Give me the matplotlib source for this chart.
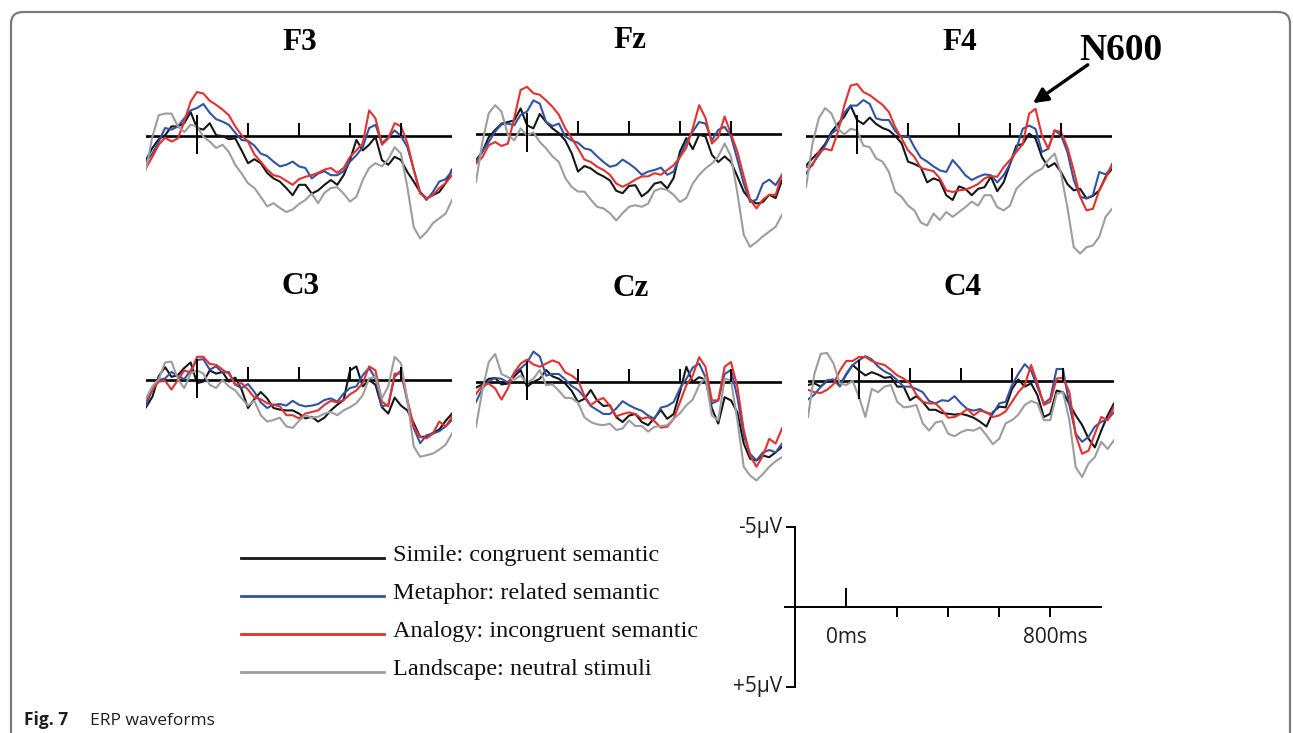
import numpy as np
import matplotlib.pyplot as plt
from matplotlib.path import Path
from matplotlib.patches import PathPatch

W, H = 1293, 733

# sample times (ms) for every waveform
times_ms = np.arange(-200, 1001, 25)

# ---- waveform values (µV, negative plotted up) ----
f3_simile = [1.5, 0.75, 0.2, -0.05, -0.6, -0.6, -0.8, -1.5, -0.5, -0.4, -0.8, -0.05, 0.0, 0.2, 0.15, 0.9, 1.7,
             1.45, 1.7, 2.3, 2.65, 2.85, 3.25, 3.7, 3.05, 3.05, 3.6, 3.4, 3.05, 2.75, 3.05, 2.45, 1.5, 0.25, 0.9,
             0.55, 0.05, 1.5, 1.8, 1.3, 1.5, 2.25, 2.85, 3.5, 3.9, 3.7, 3.5, 2.95, 2.1]
f3_metaphor = [1.6, 1.1, 0.35, -0.5, -0.4, -0.6, -1.1, -1.6, -1.75, -2.0, -1.45, -1.05, -0.9, -0.7, -0.2, 0.25, 0.3,
               0.6, 1.1, 1.25, 1.6, 1.9, 1.8, 1.6, 1.9, 2.0, 2.65, 2.35, 2.2, 2.45, 2.45, 2.2, 1.6, 1.2, 0.7,
               -0.5, -0.7, 0.45, 0.1, -0.35, 0.0, 0.7, 2.1, 3.5, 4.0, 3.5, 2.85, 2.7, 2.2]
f3_analogy = [2.0, 1.3, 0.55, 0.1, 0.35, 0.15, -0.9, -2.15, -2.75, -2.65, -2.2, -1.95, -1.65, -1.3, -0.6, -0.05, 0.35,
              1.15, 1.6, 2.1, 2.45, 2.55, 2.8, 3.05, 2.7, 2.55, 2.45, 2.3, 2.1, 2.0, 2.3, 2.0, 1.3, 0.9, 0.45,
              -1.6, -1.1, 0.55, 0.15, -0.8, -0.6, 0.45, 2.1, 3.6, 3.9, 3.7, 3.25, 2.95, 2.45]
f3_landscape = [2.1, 0.05, -1.3, -1.4, -1.4, -0.6, -0.25, -0.7, -0.6, 0.05, 0.35, 0.75, 0.55, 1.0, 1.8, 2.35, 2.95,
                3.25, 3.8, 4.4, 4.2, 4.5, 4.75, 4.6, 4.25, 4.0, 3.6, 4.2, 3.55, 3.25, 3.2, 3.6, 4.1, 3.8, 2.75,
                2.0, 1.7, 1.9, 1.45, 0.7, 1.1, 3.2, 5.7, 6.4, 6.0, 5.45, 5.15, 4.85, 4.0]

fz_simile = [1.65, 1.1, 0.2, -0.25, -0.65, -0.75, -0.85, -1.6, -0.55, -0.35, -1.25, -0.75, -0.35, -0.05, 0.4, 1.2,
             2.35, 2.0, 2.15, 2.45, 2.65, 2.9, 3.55, 3.7, 3.25, 3.2, 3.9, 3.6, 3.1, 3.0, 3.4, 2.75, 1.1, 0.25,
             0.95, 0.05, 0.15, 1.3, 1.75, 1.4, 1.75, 2.65, 3.6, 4.1, 4.35, 4.25, 3.8, 4.0, 2.9]
fz_metaphor = [1.75, 1.1, 0.5, -0.15, -0.6, -0.65, -0.55, -1.2, -1.4, -2.1, -1.9, -0.75, -0.5, -0.65, 0.15, 0.4,
               0.55, 0.9, 1.0, 1.4, 1.75, 2.05, 1.95, 1.6, 1.85, 2.15, 2.55, 2.35, 2.25, 2.1, 2.55, 2.35, 1.4, 0.5,
               -0.15, -0.75, -0.65, 0.4, -0.25, -0.45, 0.15, 1.6, 3.1, 4.25, 4.1, 3.1, 2.85, 3.2, 2.55]
fz_analogy = [1.85, 1.45, 0.7, 0.5, 0.75, 0.6, -1.0, -2.75, -2.95, -2.55, -2.45, -2.1, -1.7, -1.2, -0.35, 0.25,
              0.9, 1.6, 1.75, 2.05, 2.25, 2.55, 3.1, 3.3, 3.1, 2.85, 2.65, 2.65, 2.45, 2.55, 2.25, 1.95, 1.45, 0.85,
              -0.35, -1.8, -1.0, 0.6, 0.2, -1.1, 0.0, 1.1, 2.65, 4.1, 4.65, 4.1, 3.8, 3.8, 2.55]
fz_landscape = [3.0, 0.5, -1.3, -1.8, -1.4, 0.05, 0.4, -0.35, 0.1, -0.1, 0.5, 0.9, 1.4, 1.75, 2.75, 3.3, 3.6,
                3.6, 4.1, 4.55, 4.65, 4.95, 5.4, 4.95, 4.55, 4.45, 4.55, 4.35, 3.55, 3.4, 3.5, 3.8, 4.25, 4.0, 3.1,
                2.55, 2.15, 1.85, 1.4, 0.6, 1.4, 3.7, 6.3, 7.05, 6.75, 6.4, 6.1, 5.8, 5.05]

f4_simile = [1.85, 1.4, 1.0, 0.5, -0.25, -0.75, -1.2, -1.9, -1.0, -0.75, -1.15, -0.75, -0.5, -0.35, 0.0, 0.45,
             1.6, 1.75, 1.95, 2.9, 2.65, 2.8, 3.7, 4.0, 3.15, 3.3, 3.7, 3.3, 3.2, 2.55, 3.45, 2.9, 1.75, 0.6, 0.5,
             -0.15, 0.15, 1.3, 1.95, 1.7, 2.25, 3.0, 3.4, 3.3, 3.9, 3.75, 3.4, 2.55, 2.05]
f4_metaphor = [2.35, 1.75, 1.2, 0.6, -0.15, -0.45, -1.45, -1.9, -1.9, -2.25, -2.0, -1.1, -1.0, -1.0, -0.3, 0.1,
               -0.05, 0.7, 1.35, 1.6, 1.9, 2.15, 2.25, 1.5, 1.95, 2.45, 2.75, 2.55, 2.4, 2.45, 2.9, 2.45, 1.75, 0.8,
               -0.45, -0.65, -0.45, 1.0, 0.8, -0.35, -0.05, 1.0, 2.75, 3.8, 3.9, 3.7, 2.25, 2.4, 1.95]
f4_analogy = [1.95, 1.85, 1.0, 0.8, 0.9, -0.25, -1.9, -3.15, -3.25, -2.75, -2.55, -2.25, -1.95, -1.5, -0.55, 0.15,
              0.9, 1.3, 2.0, 2.1, 2.2, 2.65, 3.4, 3.5, 3.4, 3.35, 3.2, 3.0, 2.65, 2.5, 2.55, 1.95, 1.5, 1.0, 0.5,
              -1.4, -1.7, -0.05, 0.8, -0.35, -0.25, 0.7, 2.15, 3.8, 4.65, 4.55, 3.4, 2.65, 1.75]
f4_landscape = [3.2, 0.5, -1.1, -1.75, -1.4, -0.45, -0.1, -0.45, -0.35, 0.6, 0.7, 1.4, 1.6, 2.25, 3.5, 3.8, 4.35,
                4.65, 5.4, 5.6, 4.85, 5.25, 4.75, 5.05, 4.75, 4.45, 4.1, 4.35, 3.7, 3.7, 4.45, 4.65, 4.35, 3.3, 2.9,
                2.55, 2.25, 2.05, 1.5, 1.1, 2.35, 4.45, 6.95, 7.35, 6.95, 6.85, 6.3, 5.05, 4.55]

c3_simile = [1.7, 1.05, -0.25, -0.8, -0.2, -0.3, -0.75, -1.1, 0.2, 0.1, -0.6, -0.4, -0.5, 0.1, -0.15, 0.6, 1.75,
             1.2, 0.75, 1.15, 1.75, 1.85, 1.9, 1.9, 2.1, 2.4, 2.3, 2.6, 2.35, 1.9, 1.55, 1.25, -0.6, -0.85, 0.4,
             0.0, 0.3, 1.7, 2.1, 1.1, 1.6, 1.9, 2.7, 3.55, 3.55, 3.3, 3.1, 2.55, 2.1]
c3_metaphor = [1.55, 0.6, 0.0, -0.1, -0.5, -0.25, -0.05, -0.6, -1.25, -1.3, -0.65, -0.85, -0.45, -0.5, 0.3, 0.5,
               0.25, 0.75, 1.4, 1.75, 1.55, 1.5, 1.6, 1.3, 1.55, 1.65, 1.6, 1.5, 1.25, 1.15, 1.35, 0.85, 0.5, 0.4,
               -0.3, -0.75, -0.1, 1.65, 1.55, -0.2, -0.6, 1.35, 3.0, 3.95, 3.45, 3.35, 3.2, 2.9, 2.5]
c3_analogy = [1.25, 0.6, 0.1, 0.05, 0.6, 0.0, -0.6, -0.45, -1.45, -1.45, -1.0, -0.95, -0.65, -0.4, 0.3, 0.2, 0.6,
              1.1, 1.2, 1.45, 1.55, 1.65, 2.2, 2.2, 2.4, 2.1, 2.0, 1.9, 1.55, 1.3, 1.4, 1.25, 0.9, 0.65, 0.2,
              -0.85, -0.6, 1.35, 1.65, -0.4, -0.4, 1.25, 2.9, 3.55, 3.65, 3.35, 2.6, 2.9, 2.3]
c3_landscape = [1.15, 0.4, -0.05, -1.1, -1.15, -0.05, 0.5, -0.4, -0.6, -0.4, 0.3, 0.5, 0.0, 0.4, 0.65, 1.15, 1.6,
                1.3, 2.2, 2.6, 2.5, 2.35, 2.9, 3.0, 2.55, 2.2, 2.35, 2.3, 2.1, 2.0, 2.2, 1.9, 1.7, 1.45, 0.95,
                -0.1, -0.2, 1.15, 0.4, -1.45, -1.05, 1.25, 4.15, 4.8, 4.7, 4.6, 4.35, 4.05, 3.35]

cz_simile = [0.35, 0.15, -0.2, -0.25, 0.15, 0.1, -0.35, -0.75, 0.3, 0.0, -0.2, -0.75, -0.35, -0.2, 0.1, 0.55, 1.25,
             1.05, 0.5, 1.15, 1.5, 1.45, 2.2, 2.5, 2.1, 2.0, 2.5, 2.7, 2.25, 1.75, 2.3, 2.0, 0.6, -0.95, 0.0,
             -0.3, -0.15, 1.65, 2.6, 0.95, 1.15, 1.9, 3.85, 4.8, 4.9, 4.6, 4.7, 4.4, 4.05]
cz_metaphor = [1.25, 0.4, -0.05, -0.25, -0.2, 0.05, -0.55, -0.85, -1.2, -1.9, -1.6, -0.4, -0.5, -0.5, -0.15, 0.25,
               0.5, 0.95, 1.5, 1.75, 2.0, 2.0, 1.65, 1.2, 1.45, 1.65, 1.8, 2.1, 2.3, 1.6, 1.5, 1.25, 0.4, -0.2,
               -0.9, -1.15, -0.3, 1.35, 1.15, -0.5, -0.75, 0.95, 3.35, 4.5, 4.9, 4.4, 4.25, 4.4, 3.85]
cz_analogy = [0.75, 0.2, 0.1, 0.4, 1.1, 0.4, -0.6, -1.15, -1.4, -1.1, -0.95, -1.15, -1.35, -1.2, -0.6, -0.4, -0.1,
              0.85, 1.45, 1.15, 1.0, 1.5, 2.15, 2.0, 1.9, 2.0, 2.3, 2.2, 2.45, 2.85, 2.8, 2.3, 1.25, 0.2, -0.4,
              -1.55, -0.95, 1.15, 1.15, -0.95, -1.25, 0.3, 3.0, 4.6, 5.3, 4.6, 3.55, 3.85, 2.9]
cz_landscape = [2.8, 0.5, -1.25, -1.75, -0.5, -0.3, -0.15, -0.4, 0.05, -0.2, -0.75, 0.2, 0.15, 0.55, 1.0, 1.0, 1.3,
                2.2, 2.5, 2.65, 2.7, 2.6, 3.0, 2.9, 2.4, 2.75, 2.75, 3.1, 2.8, 2.75, 2.7, 2.3, 1.95, 1.45, 1.1,
                0.2, -0.3, 2.1, 2.4, -0.2, -0.1, 2.4, 5.3, 5.85, 6.15, 5.75, 5.3, 4.95, 4.7]

c4_simile = [0.25, 0.15, 0.35, 0.0, 0.0, 0.25, -0.4, -1.0, -0.65, -0.35, -0.55, -0.4, -0.2, -0.25, 0.35, 0.35, 1.2,
             0.95, 1.3, 1.8, 1.8, 2.0, 2.05, 2.1, 2.05, 2.15, 2.3, 2.55, 2.85, 1.95, 1.6, 1.65, 0.5, -0.1, 0.35,
             0.15, 0.9, 2.25, 2.05, 0.6, 0.7, 1.45, 2.15, 2.75, 3.6, 4.15, 3.1, 2.15, 1.4]
c4_metaphor = [1.15, 0.85, 0.35, -0.05, -0.1, 0.35, -0.45, -1.0, -1.3, -1.55, -1.35, -0.9, -0.6, -0.4, -0.05, 0.35,
               0.35, 0.5, 0.7, 1.25, 1.4, 1.2, 1.25, 0.95, 1.4, 1.75, 1.85, 1.75, 2.0, 2.05, 1.4, 1.3, 0.25, -0.45,
               -1.05, -0.65, 0.4, 1.4, 1.1, -0.75, -0.75, 1.5, 3.3, 3.8, 3.5, 2.85, 2.55, 2.4, 1.95]
c4_analogy = [0.55, 0.7, 0.75, 0.55, 0.2, -0.65, -1.25, -1.25, -1.5, -1.5, -1.25, -1.1, -1.0, -0.7, -0.35, -0.15,
              0.15, 0.85, 1.3, 1.4, 1.4, 1.8, 2.3, 2.25, 2.05, 1.75, 2.15, 1.85, 1.95, 2.25, 2.15, 1.9, 1.3, 0.7,
              0.25, -1.0, 0.15, 1.5, 1.3, -0.15, -0.2, 0.7, 3.4, 4.55, 4.35, 3.3, 2.25, 2.45, 1.6]
c4_landscape = [2.25, -0.45, -1.7, -1.75, -1.1, 0.15, 0.25, 0.0, 1.0, 2.25, 0.5, 0.7, 0.35, 0.25, 1.3, 1.65, 1.6,
                1.5, 2.65, 3.1, 2.6, 2.5, 3.3, 3.45, 3.2, 3.05, 3.1, 2.9, 3.4, 3.95, 3.6, 2.65, 2.45, 2.1, 1.5,
                1.25, 1.4, 2.45, 2.45, 0.8, 0.7, 2.45, 5.4, 6.0, 5.15, 4.75, 3.8, 4.25, 3.7]

electrodes = ['F3', 'Fz', 'F4', 'C3', 'Cz', 'C4']
conditions = ['Simile: congruent semantic', 'Metaphor: related semantic',
              'Analogy: incongruent semantic', 'Landscape: neutral stimuli']
colors = ['#161616', '#3253a4', '#e3312e', '#9d9d9d']

waves = {
    'F3': [f3_simile, f3_metaphor, f3_analogy, f3_landscape],
    'Fz': [fz_simile, fz_metaphor, fz_analogy, fz_landscape],
    'F4': [f4_simile, f4_metaphor, f4_analogy, f4_landscape],
    'C3': [c3_simile, c3_metaphor, c3_analogy, c3_landscape],
    'Cz': [cz_simile, cz_metaphor, cz_analogy, cz_landscape],
    'C4': [c4_simile, c4_metaphor, c4_analogy, c4_landscape],
}
for k in waves:
    for w in waves[k]:
        assert len(w) == len(times_ms), k

# pixel position of (0 ms, 0 µV) for each panel, and the common scale
origin = {'F3': (197, 136), 'Fz': (527, 134), 'F4': (857, 136),
          'C3': (197, 380), 'Cz': (527, 382), 'C4': (859, 381)}
PX_MS = 0.255
PX_UV = 16.0

SERIF = 'Liberation Serif'
SANS = 'Open Sans'

fig = plt.figure(figsize=(W / 100, H / 100), dpi=100)


def axes_at(x0, y0, t0, t1, v_top, v_bot):
    left = x0 + t0 * PX_MS
    top = y0 + v_top * PX_UV
    w = (t1 - t0) * PX_MS
    h = (v_bot - v_top) * PX_UV
    ax = fig.add_axes([left / W, 1 - (top + h) / H, w / W, h / H])
    ax.set_xlim(t0, t1)
    ax.set_ylim(v_bot, v_top)  # negative up
    ax.axis('off')
    return ax


# overlay in pixel coordinates for frame, legend and caption
ov = fig.add_axes([0, 0, 1, 1])
ov.set_xlim(0, W)
ov.set_ylim(H, 0)
ov.axis('off')

frame = Path([(11, H + 5), (11, 24), (11, 12), (23, 12), (1278, 12), (1290, 12), (1290, 24), (1290, H + 5)],
             [Path.MOVETO, Path.LINETO, Path.CURVE3, Path.CURVE3, Path.LINETO, Path.CURVE3, Path.CURVE3,
              Path.LINETO])
ov.add_patch(PathPatch(frame, fill=False, edgecolor='#7a7a7a', lw=1.6))

# 6 electrode panels
draw_order = [3, 0, 1, 2]
for name in electrodes:
    x0, y0 = origin[name]
    ax = axes_at(x0, y0, -200, 1000, -6.2, 8)
    ax.plot([-200, 1000], [0, 0], color='black', lw=1.9, zorder=1)
    ax.vlines(0, -1.3, 1.1, color='black', lw=1.4, zorder=5)
    ax.vlines([200, 400, 600, 800], -0.8, 0, color='black', lw=1.4, zorder=5)
    for i in draw_order:
        ax.plot(times_ms, waves[name][i], color=colors[i], lw=1.5, zorder=2 + i * 0.1)
    ax.text(405, -5.4, name, ha='center', va='baseline', fontsize=22.5,
            fontweight='bold', family=SERIF)
    if name == 'F4':
        ax.annotate('', xy=(690, -2.05), xytext=(905, -4.45),
                    arrowprops=dict(arrowstyle='-|>', color='black', lw=2.4,
                                    mutation_scale=22, shrinkA=0, shrinkB=0))
        ax.text(1035, -4.75, 'N600', ha='center', va='baseline', fontsize=27,
                fontweight='bold', family=SERIF)

# legend
for i, (label, c) in enumerate(zip(conditions, colors)):
    y = 558 + i * 38
    ov.plot([241, 384], [y, y], color=c, lw=2.0)
    ov.text(393, y + 2.5, label, ha='left', va='baseline', fontsize=17.5,
            family=SERIF, color='#111111')

# scale bar
sb = axes_at(846, 607, -260, 1010, -5.6, 5.6)
sb.plot([-200, -200], [-5, 5], color='black', lw=1.4)
sb.plot([-230, -200], [-5, -5], color='black', lw=1.4)
sb.plot([-230, -200], [5, 5], color='black', lw=1.4)
sb.plot([-240, 1000], [0, 0], color='black', lw=1.4)
sb.plot([0, 0], [0, -1.15], color='black', lw=1.4)
sb.vlines([200, 400, 600, 800], 0, 0.6, color='black', lw=1.4)
sb.text(-250, -5, '-5µV', ha='right', va='center', fontsize=15, family=SANS, color='#1e1e1e')
sb.text(-250, 5, '+5µV', ha='right', va='center', fontsize=15, family=SANS, color='#1e1e1e')
sb.text(0, 1.9, '0ms', ha='center', va='center', fontsize=15, family=SANS, color='#1e1e1e')
sb.text(820, 1.9, '800ms', ha='center', va='center', fontsize=15, family=SANS, color='#1e1e1e')

# caption
ov.text(24, 725, 'Fig. 7', ha='left', va='baseline', fontsize=12.5, fontweight='bold',
        family=SANS, color='#1e1e1e')
ov.text(90, 725, 'ERP waveforms', ha='left', va='baseline', fontsize=12.5,
        family=SANS, color='#1e1e1e')

fig.savefig('out.png', dpi=100)
